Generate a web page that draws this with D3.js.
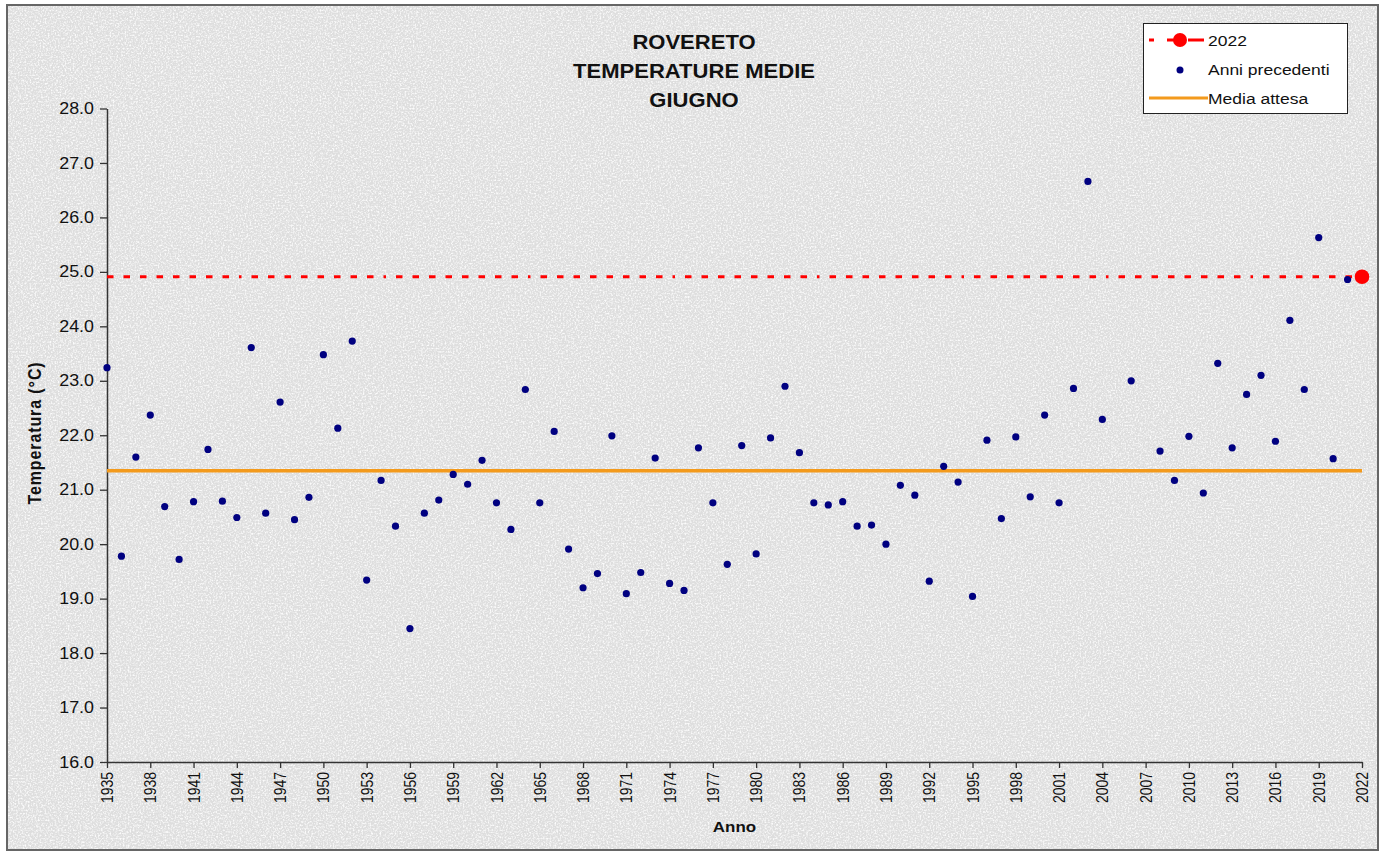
<!DOCTYPE html>
<html>
<head>
<meta charset="utf-8">
<script src="https://cdn.jsdelivr.net/npm/d3@7"></script>
<style>
  body { margin: 0; background: #ffffff; }
  text { font-family: "Liberation Sans", Arial, sans-serif; fill: #111; }
</style>
</head>
<body>
<div id="chart"></div>
<script>
      // data (giugno, Rovereto)
      var years = [1935, 1936, 1937, 1938, 1939, 1940, 1941, 1942, 1943, 1944,
                   1945, 1946, 1947, 1948, 1949, 1950, 1951, 1952, 1953, 1954,
                   1955, 1956, 1957, 1958, 1959, 1960, 1961, 1962, 1963, 1964,
                   1965, 1966, 1967, 1968, 1969, 1970, 1971, 1972, 1973, 1974,
                   1975, 1976, 1977, 1978, 1979, 1980, 1981, 1982, 1983, 1984,
                   1985, 1986, 1987, 1988, 1989, 1990, 1991, 1992, 1993, 1994,
                   1995, 1996, 1997, 1998, 1999, 2000, 2001, 2002, 2003, 2004,
                   2006, 2008, 2009, 2010, 2011, 2012, 2013, 2014, 2015, 2016,
                   2017, 2018, 2019, 2020, 2021];
      var temps = [23.24, 19.78, 21.60, 22.37, 20.69, 19.72, 20.78, 21.74, 20.79, 20.49,
                   23.61, 20.57, 22.61, 20.45, 20.86, 23.48, 22.13, 23.73, 19.34, 21.17,
                   20.33, 18.45, 20.57, 20.81, 21.28, 21.10, 21.54, 20.76, 20.27, 22.84,
                   20.76, 22.07, 19.91, 19.20, 19.46, 21.99, 19.09, 19.48, 21.58, 19.28,
                   19.15, 21.77, 20.76, 19.63, 21.81, 19.82, 21.95, 22.90, 21.68, 20.76,
                   20.72, 20.78, 20.33, 20.35, 20.00, 21.08, 20.90, 19.32, 21.43, 21.14,
                   19.04, 21.91, 20.47, 21.97, 20.87, 22.37, 20.76, 22.86, 26.66, 22.29,
                   23.00, 21.71, 21.17, 21.98, 20.94, 23.32, 21.77, 22.75, 23.10, 21.89,
                   24.11, 22.84, 25.63, 21.57, 24.86];
      var currentYear = 2022;
      var currentTemp = 24.91;
      var expectedMean = 21.35;
      var yearRange = [1935, 2022];
      var tempRange = [16, 28];
      var yTicks = [16, 17, 18, 19, 20, 21, 22, 23, 24, 25, 26, 27, 28];
      var xTicks = d3.range(1935, 2023, 3);
      var titleLines = ['ROVERETO', 'TEMPERATURE MEDIE', 'GIUGNO'];
      var legendLabels = ['2022', 'Anni precedenti', 'Media attesa'];

      var width = 1385;
      var height = 852;
      var stretch = 1.13; // the original text is drawn a bit wider than it is tall
      var margin = {left: 107, right: 23, top: 108.5, bottom: 90};

      var svg = d3.select('#chart').append('svg')
          .attr('width', width)
          .attr('height', height);

      // granite-like background
      var defs = svg.append('defs');
      var grain = defs.append('filter').attr('id', 'grain')
          .attr('x', 0).attr('y', 0).attr('width', '100%').attr('height', '100%');
      grain.append('feTurbulence')
          .attr('type', 'fractalNoise')
          .attr('baseFrequency', 0.6)
          .attr('numOctaves', 3)
          .attr('seed', 7);
      grain.append('feColorMatrix')
          .attr('type', 'matrix')
          .attr('values', '0 0 0 0 1  0 0 0 0 1  0 0 0 0 1  0 0 0 -2.6 1.5');

      svg.append('rect')
          .attr('x', 7).attr('y', 5)
          .attr('width', 1371).attr('height', 845)
          .attr('fill', '#dedede');
      svg.append('rect')
          .attr('x', 7).attr('y', 5)
          .attr('width', 1371).attr('height', 845)
          .attr('filter', 'url(#grain)')
          .attr('opacity', 0.9);
      svg.append('rect')
          .attr('x', 7).attr('y', 5)
          .attr('width', 1371).attr('height', 845)
          .attr('fill', 'none')
          .attr('stroke', '#666')
          .attr('stroke-width', 2);

      var xScale = d3.scaleLinear()
          .domain(yearRange)
          .range([margin.left, width - margin.right]);

      var yScale = d3.scaleLinear()
          .domain(tempRange)
          .range([height - margin.bottom, margin.top]);

      // axes
      var xAxis = d3.axisBottom(xScale)
          .tickValues(xTicks)
          .tickFormat(d3.format('d'))
          .tickSizeInner(6)
          .tickSizeOuter(0);

      var yAxis = d3.axisLeft(yScale)
          .tickValues(yTicks)
          .tickFormat(d3.format('.1f'))
          .tickSizeInner(7)
          .tickSizeOuter(0);

      var gx = svg.append('g')
          .attr('transform', 'translate(0,' + (height - margin.bottom) + ')')
          .call(xAxis);
      gx.select('.domain').attr('stroke', '#333').attr('stroke-width', 1.5);
      gx.selectAll('.tick line').attr('stroke', '#333').attr('stroke-width', 1.3);
      gx.selectAll('.tick text')
          .attr('font-size', 14)
          .attr('font-family', '"Liberation Sans", Arial, sans-serif')
          .attr('fill', '#111')
          .attr('text-anchor', 'end')
          .attr('x', -10)
          .attr('y', 0)
          .attr('dy', '0.35em')
          .attr('transform', 'scale(' + stretch + ',1) rotate(-90)');

      var gy = svg.append('g')
          .attr('transform', 'translate(' + margin.left + ',0)')
          .call(yAxis);
      gy.select('.domain').attr('stroke', '#333').attr('stroke-width', 1.5);
      gy.selectAll('.tick line').attr('stroke', '#333').attr('stroke-width', 1.3);
      gy.selectAll('.tick text')
          .attr('font-size', 15.8)
          .attr('font-family', '"Liberation Sans", Arial, sans-serif')
          .attr('fill', '#111')
          .attr('x', -13 / stretch)
          .attr('transform', 'scale(' + stretch + ',1)');

      // title
      svg.append('g')
          .selectAll('text')
          .data(titleLines)
          .enter()
          .append('text')
              .attr('transform', (d, i) => 'translate(694,' + (49 + i * 29) + ') scale(' + stretch + ',1)')
              .attr('text-anchor', 'middle')
              .attr('font-size', 19.5)
              .attr('font-weight', 'bold')
              .text(d => d);

      // axis titles
      svg.append('text')
          .attr('transform', 'translate(' + ((margin.left + width - margin.right) / 2) + ',832) scale(' + stretch + ',1)')
          .attr('text-anchor', 'middle')
          .attr('font-size', 15)
          .attr('font-weight', 'bold')
          .text('Anno');

      svg.append('text')
          .attr('transform', 'translate(41,433) scale(' + stretch + ',1) rotate(-90)')
          .attr('text-anchor', 'middle')
          .attr('font-size', 16)
          .attr('font-weight', 'bold')
          .attr('letter-spacing', 0.9)
          .text('Temperatura (°C)');

      // expected mean line
      svg.append('line')
          .attr('x1', xScale(yearRange[0]))
          .attr('x2', xScale(yearRange[1]))
          .attr('y1', yScale(expectedMean))
          .attr('y2', yScale(expectedMean))
          .attr('stroke', '#f39a1c')
          .attr('stroke-width', 3.5);

      // 2022 reference line, dashes with a dot now and then
      var redDash = '6.5,10,6.5,10,6.5,10,6.5,10,6.5,10,6.5,10,6.5,10,6.5,10,2.5,10';
      svg.append('line')
          .attr('x1', xScale(yearRange[0]))
          .attr('x2', xScale(currentYear))
          .attr('y1', yScale(currentTemp))
          .attr('y2', yScale(currentTemp))
          .attr('stroke', '#ff0000')
          .attr('stroke-width', 3)
          .attr('stroke-dasharray', redDash);

      // previous years
      var points = years.map((d, i) => ({year: d, temp: temps[i]}));
      svg.append('g')
          .selectAll('circle')
          .data(points)
          .enter()
          .append('circle')
              .attr('r', 3.6)
              .attr('cx', d => xScale(d.year))
              .attr('cy', d => yScale(d.temp))
              .attr('fill', '#000080');

      svg.append('circle')
          .attr('r', 7.3)
          .attr('cx', xScale(currentYear))
          .attr('cy', yScale(currentTemp))
          .attr('fill', '#ff0000');

      // legend
      var legend = svg.append('g');
      legend.append('rect')
          .attr('x', 1143.5).attr('y', 23.5)
          .attr('width', 204).attr('height', 90)
          .attr('fill', '#ffffff')
          .attr('stroke', '#222')
          .attr('stroke-width', 1);

      legend.append('line')
          .attr('x1', 1149).attr('x2', 1207)
          .attr('y1', 40).attr('y2', 40)
          .attr('stroke', '#ff0000')
          .attr('stroke-width', 3)
          .attr('stroke-dasharray', '5,13,16,5,16,6,3,10');
      legend.append('circle')
          .attr('cx', 1180).attr('cy', 40).attr('r', 7)
          .attr('fill', '#ff0000');
      legend.append('circle')
          .attr('cx', 1180).attr('cy', 70).attr('r', 3.5)
          .attr('fill', '#000080');
      legend.append('line')
          .attr('x1', 1149).attr('x2', 1208)
          .attr('y1', 98).attr('y2', 98)
          .attr('stroke', '#f39a1c')
          .attr('stroke-width', 3);

      legend.selectAll('text')
          .data(legendLabels)
          .enter()
          .append('text')
              .attr('transform', (d, i) => 'translate(1208,' + (46 + i * 29) + ') scale(' + stretch + ',1)')
              .attr('font-size', 15.5)
              .text(d => d);
</script>
</body>
</html>
